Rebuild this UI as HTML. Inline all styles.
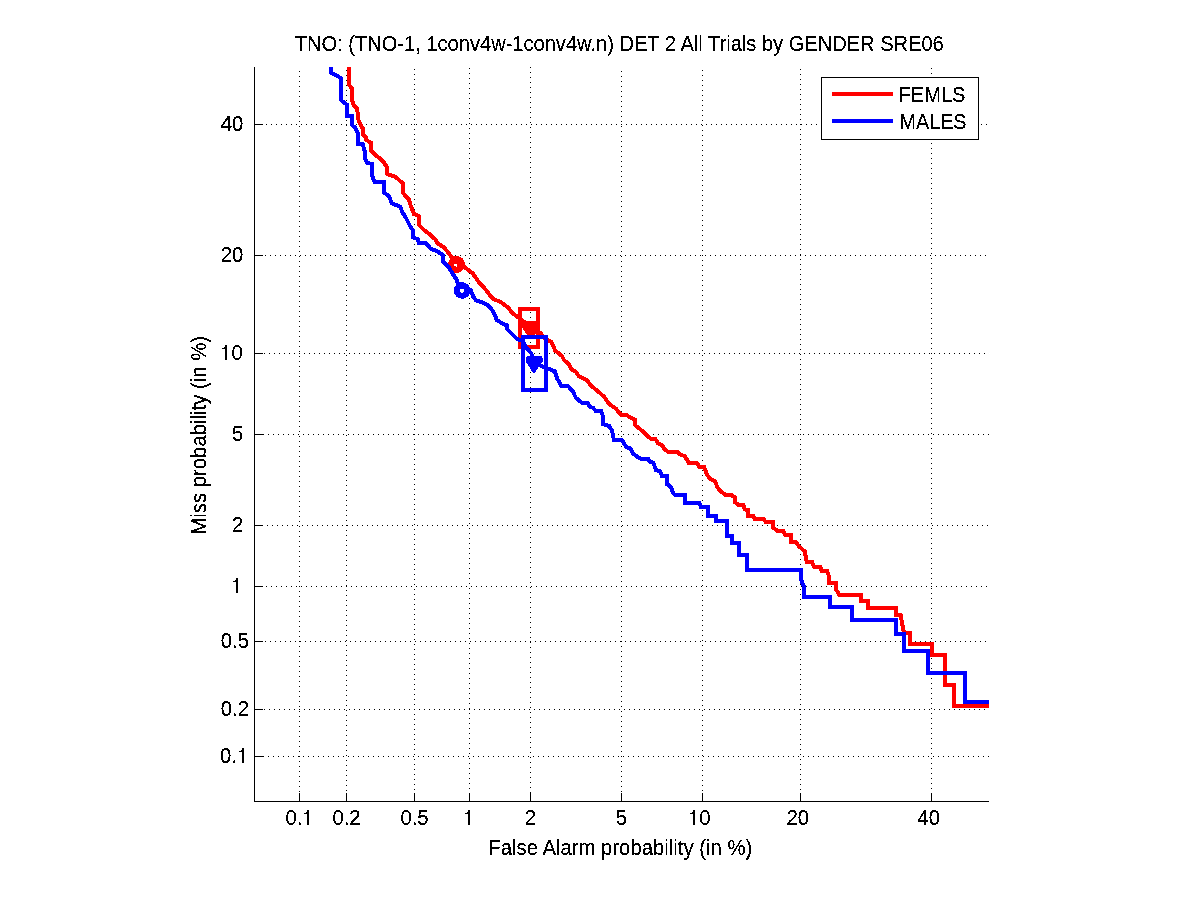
<!DOCTYPE html>
<html><head><meta charset="utf-8"><title>DET</title>
<style>
html,body{margin:0;padding:0;background:#fff;}
body{width:1201px;height:900px;overflow:hidden;font-family:"Liberation Sans",sans-serif;}
svg{display:block;will-change:transform;}
text{font-family:"Liberation Sans",sans-serif;font-size:20.3px;fill:#000;stroke:#000;stroke-width:0.15px;}
</style></head><body>
<svg width="1201" height="900" viewBox="0 0 1201 900">
<rect x="0" y="0" width="1201" height="900" fill="#ffffff"/>
<defs><filter id="al" x="0" y="0" width="100%" height="100%" filterUnits="userSpaceOnUse" color-interpolation-filters="sRGB"><feComponentTransfer><feFuncA type="discrete" tableValues="0 1"/></feComponentTransfer></filter></defs>

<g stroke="#000" stroke-width="1" stroke-dasharray="1 4" shape-rendering="crispEdges" fill="none">
<line x1="299.5" y1="71" x2="299.5" y2="801"/>
<line x1="346.5" y1="70" x2="346.5" y2="801"/>
<line x1="414.5" y1="69" x2="414.5" y2="801"/>
<line x1="469.5" y1="68" x2="469.5" y2="801"/>
<line x1="530.5" y1="67" x2="530.5" y2="801"/>
<line x1="621.5" y1="71" x2="621.5" y2="801"/>
<line x1="702.5" y1="70" x2="702.5" y2="801"/>
<line x1="800.5" y1="69" x2="800.5" y2="801"/>
<line x1="931.5" y1="68" x2="931.5" y2="801"/>
<line x1="258" y1="756.5" x2="989" y2="756.5"/>
<line x1="254" y1="709.5" x2="989" y2="709.5"/>
<line x1="255" y1="641.5" x2="989" y2="641.5"/>
<line x1="256" y1="586.5" x2="989" y2="586.5"/>
<line x1="257" y1="525.5" x2="989" y2="525.5"/>
<line x1="258" y1="434.5" x2="989" y2="434.5"/>
<line x1="254" y1="353.5" x2="989" y2="353.5"/>
<line x1="255" y1="255.5" x2="989" y2="255.5"/>
<line x1="256" y1="124.5" x2="989" y2="124.5"/>
</g>
<g stroke="#000" stroke-width="1" shape-rendering="crispEdges" fill="none">
<line x1="254.5" y1="67" x2="254.5" y2="802"/>
<line x1="254" y1="801.5" x2="989" y2="801.5"/>
<line x1="299.5" y1="802" x2="299.5" y2="793"/>
<line x1="254" y1="756.5" x2="263" y2="756.5"/>
<line x1="346.5" y1="802" x2="346.5" y2="793"/>
<line x1="254" y1="709.5" x2="263" y2="709.5"/>
<line x1="414.5" y1="802" x2="414.5" y2="793"/>
<line x1="254" y1="641.5" x2="263" y2="641.5"/>
<line x1="469.5" y1="802" x2="469.5" y2="793"/>
<line x1="254" y1="586.5" x2="263" y2="586.5"/>
<line x1="530.5" y1="802" x2="530.5" y2="793"/>
<line x1="254" y1="525.5" x2="263" y2="525.5"/>
<line x1="621.5" y1="802" x2="621.5" y2="793"/>
<line x1="254" y1="434.5" x2="263" y2="434.5"/>
<line x1="702.5" y1="802" x2="702.5" y2="793"/>
<line x1="254" y1="353.5" x2="263" y2="353.5"/>
<line x1="800.5" y1="802" x2="800.5" y2="793"/>
<line x1="254" y1="255.5" x2="263" y2="255.5"/>
<line x1="931.5" y1="802" x2="931.5" y2="793"/>
<line x1="254" y1="124.5" x2="263" y2="124.5"/>
</g>
<g fill="none" stroke-width="4" stroke-linejoin="miter" shape-rendering="crispEdges">
<polyline stroke="#ff0000" points="348.9,66.9 348.9,84.7 352.0,88.7 352.0,100.0 354.0,106.0 357.0,108.0 358.7,121.3 360.7,125.3 363.3,129.3 363.3,134.7 366.0,137.3 366.0,140.0 371.3,142.7 371.3,150.7 376.7,156.0 382.7,160.7 386.7,166.7 386.7,173.3 387.3,174.0 395.3,176.7 402.7,183.3 402.7,192.7 408.7,199.3 411.3,207.3 414.0,214.0 418.7,216.0 418.7,224.7 424.0,230.0 429.3,234.0 436.0,240.0 437.3,243.3 444.0,247.3 448.7,253.3 453.3,259.3 456.7,264.4 464.7,267.3 472.7,273.3 479.3,282.7 486.0,290.0 492.7,298.7 500.7,302.0 508.7,308.0 511.3,312.0 518.0,317.3 523.3,321.3 531.3,326.7 540.7,333.3 544.7,338.7 551.3,342.0 555.3,350.7 562.0,356.0 564.0,360.0 568.7,364.0 571.3,369.3 576.0,372.0 578.7,376.0 586.7,380.0 591.3,386.0 597.3,390.7 604.0,396.7 609.3,404.0 616.0,408.7 621.3,415.3 626.7,415.3 635.3,420.0 635.3,425.3 642.7,431.3 646.7,435.3 650.7,438.7 655.3,438.7 658.0,443.3 662.0,445.3 665.3,450.0 668.7,452.0 677.3,452.0 680.7,454.7 684.7,456.0 688.7,462.7 696.7,462.7 699.3,466.7 704.0,466.7 706.7,474.0 710.0,478.7 715.3,481.3 717.3,487.3 720.7,491.3 725.3,494.7 730.7,494.7 734.7,497.3 734.7,502.0 738.7,505.0 743.3,505.0 744.7,509.3 748.0,510.0 748.0,516.0 753.3,516.0 754.7,519.0 764.0,519.0 765.3,521.6 772.7,521.6 772.7,527.3 777.3,530.7 783.3,530.7 785.3,534.7 790.7,534.7 790.7,542.0 796.0,542.0 799.3,546.7 804.7,551.3 806.7,562.0 812.0,562.0 814.0,566.7 820.0,566.7 822.0,571.3 827.3,571.3 829.3,577.3 829.3,582.7 836.0,582.7 836.0,589.3 839.3,594.7 861.3,594.7 861.3,600.7 868.0,600.7 868.0,607.6 896.0,607.6 896.0,615.3 900.7,615.3 903.3,630.0 905.3,633.3 910.0,633.3 910.0,643.6 932.0,643.6 932.0,655.3 944.7,655.3 944.7,685.3 954.4,685.3 954.4,705.7 988.7,705.7"/>
<circle cx="456.5" cy="264.5" r="5.4" stroke="#ff0000" stroke-width="6.2"/>
<polygon fill="#ff0000" stroke="none" points="522,321 538,321 538,330 535,335 531.5,338.3 529.5,338.3 522,327.5"/>
<rect x="520" y="308.9" width="18" height="38" stroke="#ff0000"/>
<polyline stroke="#0000ff" points="330.9,66.9 330.9,72.7 340.9,78.0 340.9,100.0 346.9,104.7 346.9,116.0 351.7,116.0 351.7,124.7 355.3,128.0 358.0,133.3 358.0,144.0 362.7,144.0 365.0,152.0 365.0,158.7 367.3,162.7 371.6,164.0 371.6,174.7 374.7,182.0 384.0,182.0 384.0,192.7 388.7,196.0 392.0,203.3 400.0,206.7 402.7,212.7 406.0,218.0 410.0,226.0 412.7,230.0 412.7,237.3 418.0,239.3 418.7,243.3 426.0,243.3 430.7,248.7 437.3,251.3 443.3,255.3 443.3,262.0 448.7,267.3 452.0,272.7 456.0,278.7 458.0,283.3 462.0,287.0 466.0,288.0 470.7,290.3 473.3,296.7 476.0,300.5 482.7,302.5 488.0,305.3 491.3,308.7 495.3,316.0 496.7,320.0 502.0,323.3 506.7,325.3 507.3,329.3 512.7,334.7 516.7,338.7 523.3,341.3 525.3,346.7 531.3,353.3 534.7,362.7 543.3,366.7 554.7,371.3 557.3,378.7 561.3,386.0 568.0,386.0 572.7,391.3 576.0,398.0 582.0,402.7 587.3,402.7 590.0,406.7 593.3,408.0 596.0,411.3 601.3,411.3 603.3,417.3 603.3,424.0 609.3,426.0 612.0,430.7 614.0,440.0 622.0,440.0 626.0,446.7 630.7,448.7 632.7,453.3 637.3,456.7 641.3,458.7 648.0,458.7 650.0,462.0 653.3,462.7 656.0,470.0 660.0,471.3 662.0,476.0 666.7,476.0 666.7,484.0 670.7,486.7 673.3,493.3 675.3,495.0 684.7,495.0 684.7,502.7 699.3,502.7 700.7,506.7 708.0,506.7 708.0,516.0 716.0,516.0 716.0,520.7 726.7,520.7 726.7,536.0 732.0,536.0 732.0,542.7 739.3,542.7 739.3,554.7 747.3,554.7 747.3,570.0 800.7,570.0 800.7,578.7 804.0,586.7 804.0,596.7 830.0,596.7 830.0,607.0 852.0,607.0 852.0,620.0 896.0,620.0 896.0,634.0 904.0,634.0 904.0,650.7 928.0,650.7 928.0,673.0 965.0,673.0 965.0,702.0 988.7,702.0"/>
<circle cx="462.1" cy="290.5" r="5.3" stroke="#0000ff" stroke-width="6"/>
<polygon fill="#0000ff" stroke="none" points="527.6,356 541.8,356 542.7,358 542.5,362 537.8,368.4 534.5,372.9 533,372.9 525.8,361.5 526.5,357"/>
<rect x="523" y="336.8" width="23" height="52.9" stroke="#0000ff"/>
<rect x="454.2" y="264.2" width="2.6" height="1.8" fill="#fff" stroke="none"/>
<polygon points="459.8,289.9 461.6,289.9 463.9,292.4 461.6,292.4" fill="#fff" stroke="none"/>
</g>
<g shape-rendering="crispEdges">
<rect x="821.5" y="77.5" width="157" height="62" fill="#fff" stroke="#000" stroke-width="1"/>
<line x1="832" y1="94" x2="893" y2="94" stroke="#ff0000" stroke-width="4"/>
<line x1="832" y1="121" x2="893" y2="121" stroke="#0000ff" stroke-width="4"/>
</g>
<g filter="url(#al)">
<text transform="translate(898.5,102) scale(1,1.045)" textLength="67.0" lengthAdjust="spacingAndGlyphs">FEMLS</text>
<text transform="translate(899.5,129) scale(1,1.045)" textLength="67.0" lengthAdjust="spacingAndGlyphs">MALES</text>
<text transform="translate(294.8,51) scale(1,1.045)" textLength="649" lengthAdjust="spacingAndGlyphs">TNO: (TNO-1, 1conv4w-1conv4w.n) DET 2 All Trials by GENDER SRE06</text>
<text transform="translate(488.3,855) scale(1,1.045)" textLength="263.9" lengthAdjust="spacingAndGlyphs">False Alarm probability (in %)</text>
<text transform="translate(206,534.7) rotate(-90) scale(1,1.045)" textLength="198.9" lengthAdjust="spacingAndGlyphs">Miss probability (in %)</text>
<text transform="translate(285.4,825) scale(1,1.045)">0.</text>
<text transform="translate(220.1,763) scale(1,1.045)">0.</text>
<text transform="translate(346.5,825) scale(1,1.045)" text-anchor="middle">0.2</text>
<text transform="translate(249,716) scale(1,1.045)" text-anchor="end">0.2</text>
<text transform="translate(414.5,825) scale(1,1.045)" text-anchor="middle">0.5</text>
<text transform="translate(249,648) scale(1,1.045)" text-anchor="end">0.5</text>
<text transform="translate(530.5,825) scale(1,1.045)" text-anchor="middle">2</text>
<text transform="translate(243.4,532) scale(1,1.045)" text-anchor="end">2</text>
<text transform="translate(621.5,825) scale(1,1.045)" text-anchor="middle">5</text>
<text transform="translate(243.4,441) scale(1,1.045)" text-anchor="end">5</text>
<text transform="translate(699.2,825) scale(1,1.045)">0</text>
<text transform="translate(231.5,360) scale(1,1.045)">0</text>
<text transform="translate(797.7,825) scale(1,1.045)" text-anchor="middle">20</text>
<text transform="translate(243.4,262) scale(1,1.045)" text-anchor="end">20</text>
<text transform="translate(928.7,825) scale(1,1.045)" text-anchor="middle">40</text>
<text transform="translate(243.4,131) scale(1,1.045)" text-anchor="end">40</text>
<g fill="#000" stroke="none" shape-rendering="crispEdges"><rect x="307" y="810" width="2" height="15"/><rect x="304" y="813" width="3" height="1"/><rect x="306" y="812" width="1" height="1"/><rect x="242" y="748" width="2" height="15"/><rect x="239" y="751" width="3" height="1"/><rect x="241" y="750" width="1" height="1"/><rect x="468" y="810" width="2" height="15"/><rect x="465" y="813" width="3" height="1"/><rect x="467" y="812" width="1" height="1"/><rect x="236" y="578" width="2" height="15"/><rect x="233" y="581" width="3" height="1"/><rect x="235" y="580" width="1" height="1"/><rect x="693" y="810" width="2" height="15"/><rect x="690" y="813" width="3" height="1"/><rect x="692" y="812" width="1" height="1"/><rect x="225" y="345" width="2" height="15"/><rect x="222" y="348" width="3" height="1"/><rect x="224" y="347" width="1" height="1"/></g>
</g>
</svg></body></html>
